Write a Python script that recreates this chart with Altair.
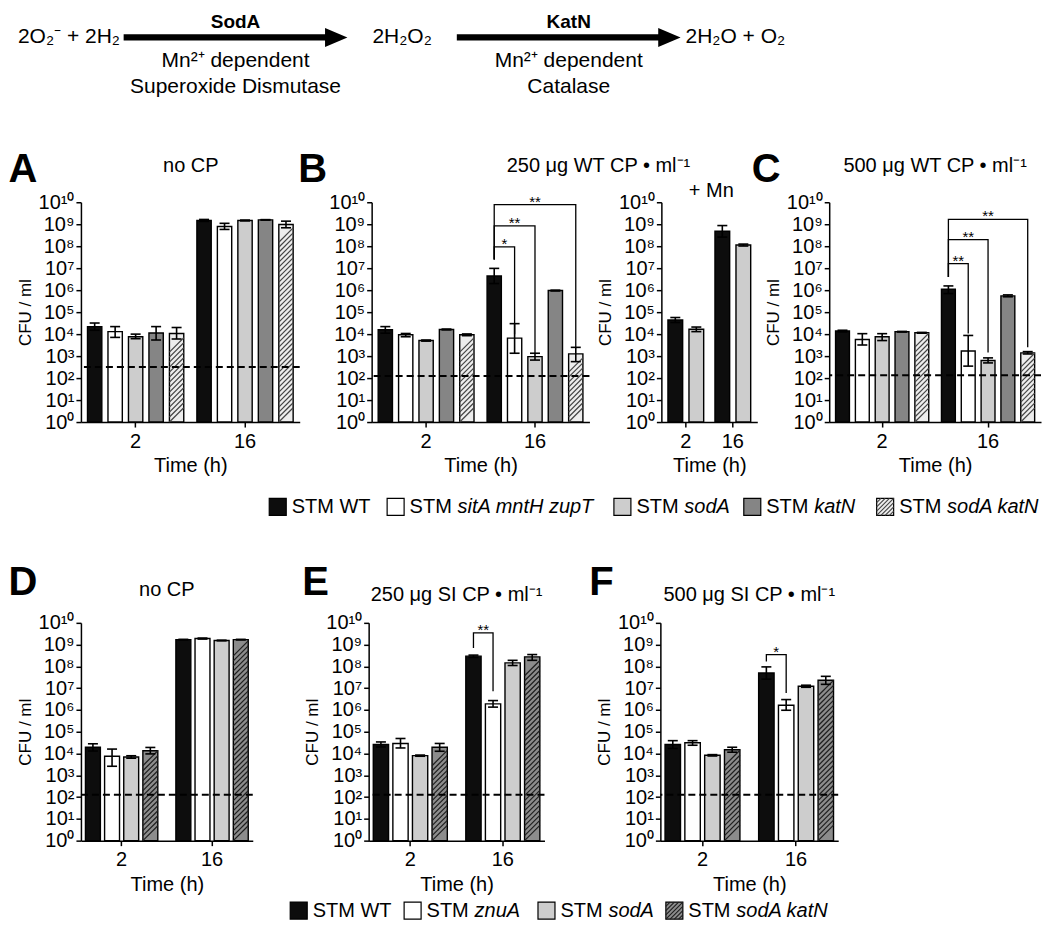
import altair as alt
import pandas as pd

FONT = "Liberation Sans"

# ---------------- data ----------------
SPECIES = ["2O₂⁻ + 2H₂", "2H₂O₂", "2H₂O + O₂"]
ENZYMES = ["SodA", "KatN"]
ENZ_LINE1 = ["Mn²⁺ dependent", "Mn²⁺ dependent"]
ENZ_LINE2 = ["Superoxide Dismutase", "Catalase"]

TIMES = ["2", "16"]
STRAINS_WT = ["STM WT", "STM sitA mntH zupT", "STM sodA", "STM katN", "STM sodA katN"]
STRAINS_MN = ["STM WT", "STM sodA"]
STRAINS_SI = ["STM WT", "STM znuA", "STM sodA", "STM sodA katN"]

TITLE_A = "no CP"
TITLE_B = "250 μg WT CP • ml⁻¹"
TITLE_MN = "+ Mn"
TITLE_C = "500 μg WT CP • ml⁻¹"
TITLE_D = "no CP"
TITLE_E = "250 μg SI CP • ml⁻¹"
TITLE_F = "500 μg SI CP • ml⁻¹"

# CFU/ml means and error-bar ends, [2 h values, 16 h values]
A_MEAN = [[2.2e4, 1.3e4, 7.6e3, 1.12e4, 1.07e4], [1.48e9, 7.9e8, 1.48e9, 1.58e9, 9.7e8]]
A_HI = [[3.2e4, 2.2e4, 1.0e4, 2.2e4, 2.0e4], [1.65e9, 1.1e9, 1.55e9, 1.62e9, 1.38e9]]
A_LO = [[1.5e4, 7.1e3, 6.2e3, 5.4e3, 6.0e3], [1.35e9, 5.8e8, 1.42e9, 1.54e9, 6.9e8]]

B_MEAN = [[1.58e4, 9.3e3, 5.1e3, 1.63e4, 9.3e3], [4.4e6, 6.6e3, 950, 9.6e5, 1.26e3]]
B_HI = [[2.2e4, 1.07e4, 5.4e3, 1.7e4, 1.02e4], [9.8e6, 3.0e4, 1.35e3, 1.0e6, 2.5e3]]
B_LO = [[1.1e4, 7.6e3, 4.8e3, 1.56e4, 8.5e3], [2.0e6, 1.35e3, 660, 9.2e5, 560]]

MN_MEAN = [[4.4e4, 1.66e4], [4.8e8, 1.13e8]]
MN_HI = [[5.7e4, 2.1e4], [8.7e8, 1.25e8]]
MN_LO = [[3.4e4, 1.3e4], [2.6e8, 1.02e8]]

C_MEAN = [[1.38e4, 5.7e3, 7.6e3, 1.29e4, 1.15e4], [1.1e6, 1.7e3, 630, 5.5e5, 1.41e3]]
C_HI = [[1.5e4, 1.05e4, 1.05e4, 1.33e4, 1.2e4], [1.56e6, 8.7e3, 830, 6.1e5, 1.6e3]]
C_LO = [[1.26e4, 3.2e3, 5.1e3, 1.25e4, 1.1e4], [7.0e5, 350, 490, 5.0e5, 1.25e3]]

D_MEAN = [[1.94e4, 7.5e3, 6.9e3, 1.35e4], [1.7e9, 1.9e9, 1.55e9, 1.7e9]]
D_HI = [[2.8e4, 1.6e4, 7.9e3, 1.9e4], [1.75e9, 2.0e9, 1.6e9, 1.75e9]]
D_LO = [[1.3e4, 2.6e3, 6.1e3, 9.6e3], [1.65e9, 1.8e9, 1.5e9, 1.65e9]]

E_MEAN = [[2.6e4, 2.9e4, 8.0e3, 1.94e4], [2.95e8, 1.9e6, 1.45e8, 2.75e8]]
E_HI = [[3.4e4, 4.9e4, 8.5e3, 2.9e4], [3.3e8, 2.7e6, 1.9e8, 3.5e8]]
E_LO = [[2.0e4, 1.8e4, 7.5e3, 1.27e4], [2.6e8, 1.35e6, 1.1e8, 1.9e8]]

F_MEAN = [[2.6e4, 3.1e4, 8.3e3, 1.5e4], [5.0e7, 1.65e6, 1.23e7, 2.3e7]]
F_HI = [[3.9e4, 3.9e4, 8.9e3, 1.94e4], [9.5e7, 3.0e6, 1.37e7, 3.5e7]]
F_LO = [[1.7e4, 2.4e4, 7.7e3, 1.15e4], [2.6e7, 9.7e5, 1.1e7, 1.5e7]]

# detection limits (dashed lines)
LOD_A, LOD_B, LOD_C, LOD_D, LOD_E, LOD_F = 320, 126, 135, 129, 129, 129

# significance brackets at 16 h (from STM WT to target)
BR_B = {"start": 2.5e7, "targets": ["STM sitA mntH zupT", "STM sodA", "STM sodA katN"],
        "tops": [9.3e7, 8.5e8, 7.8e9], "ends": [1.0e4, 1.35e3, 2.3e3], "labels": ["*", "**", "**"]}
BR_C = {"start": 4.0e6, "targets": ["STM sitA mntH zupT", "STM sodA", "STM sodA katN"],
        "tops": [1.6e7, 2.0e8, 1.66e9], "ends": [1.07e4, 1.45e3, 2.5e3], "labels": ["**", "**", "**"]}
BR_E = {"start": 7.0e8, "targets": ["STM znuA"], "tops": [3.5e9], "ends": [7.2e6], "labels": ["**"]}
BR_F = {"start": 1.7e8, "targets": ["STM znuA"], "tops": [3.5e8], "ends": [6.0e6], "labels": ["*"]}

# ---------------- styles ----------------
FILL_1 = {"STM WT": "#0d0d0d", "STM sitA mntH zupT": "#ffffff", "STM sodA": "#cdcdcd",
          "STM katN": "#858585", "STM sodA katN": "#ededed"}
FILL_2 = {"STM WT": "#0d0d0d", "STM znuA": "#ffffff", "STM sodA": "#cdcdcd",
          "STM sodA katN": "#8c8c8c"}
HATCH_1 = "#444444"
HATCH_2 = "#1e1e1e"
LABEL_EXPR = ("'10' + ['⁰','¹','²','³','⁴','⁵','⁶','⁷','⁸','⁹','¹⁰']"
              "[round(log(datum.value) / LN10)]")


def long_df(strains, mean, hi, lo):
    rows = []
    for ti, t in enumerate(TIMES):
        for si, s in enumerate(strains):
            rows.append({"time": t, "strain": s, "mean": mean[ti][si],
                         "hi": hi[ti][si], "lo": lo[ti][si]})
    return pd.DataFrame(rows)


def text_layer(txt, x, y, size, weight="normal", align="center"):
    return alt.Chart(pd.DataFrame({"t": [txt]})).mark_text(
        fontSize=size, fontWeight=weight, font=FONT, align=align, baseline="middle", color="black"
    ).encode(x=alt.value(x), y=alt.value(y), text="t:N")


def build_panel(strains, mean, hi, lo, fills, hatch_color, width, height, pin, pout, spad,
                ytitle, lod, br, letter, letter_xy, titles):
    df = long_df(strains, mean, hi, lo)
    n = len(strains)
    step = width / (2 - pin + 2 * pout)
    band = step * (1 - pin)
    sub = band / (n - spad)
    bw = sub * (1 - spad)
    ppd = height / 10.0

    yscale = alt.Scale(type="log", domain=[1, 1e10], nice=False)
    if ytitle:
        yaxis = alt.Axis(values=[10 ** i for i in range(11)], labelExpr=LABEL_EXPR, title=ytitle,
                         labelOverlap=False, labelFlush=False)
    else:
        yaxis = alt.Axis(values=[10 ** i for i in range(11)], labelExpr=LABEL_EXPR, title=None,
                         labelOverlap=False, labelFlush=False)

    def Y(f):
        return alt.Y(f"{f}:Q", scale=yscale, axis=yaxis)

    X = alt.X("time:N", sort=TIMES,
              scale=alt.Scale(domain=TIMES, paddingInner=pin, paddingOuter=pout),
              axis=alt.Axis(title="Time (h)", labelAngle=0))
    XO = alt.XOffset("strain:N", sort=strains,
                     scale=alt.Scale(domain=strains, paddingInner=spad, paddingOuter=0))

    layers = []
    layers.append(alt.Chart(df).mark_bar(stroke="black", strokeWidth=1.4).encode(
        x=X, xOffset=XO, y=Y("mean"), y2=alt.datum(1),
        fill=alt.Fill("strain:N", scale=alt.Scale(domain=strains, range=[fills[s] for s in strains]),
                      legend=None)))

    if "STM sodA katN" in strains:
        half = bw / 2.0
        spc = 5.0
        layers.append(
            alt.Chart(df).transform_filter(
                alt.FieldEqualPredicate(field="strain", equal="STM sodA katN")
            ).transform_calculate(k="sequence(0, 90)").transform_flatten(["k"]).transform_calculate(
                hy=f"pow(10, ({half} + datum.k * {spc}) / {ppd})"
            ).transform_filter(
                f"datum.hy * pow(10, {half} / {ppd}) <= datum.mean"
            ).mark_point(shape="M-1,1L1,-1", size=bw * bw, filled=False, color=hatch_color,
                         strokeWidth=1.2, opacity=1).encode(x=X, xOffset=XO, y=Y("hy"))
        )

    layers.append(alt.Chart(df).mark_rule(color="black", strokeWidth=1.6).encode(
        x=X, xOffset=XO, y=Y("lo"), y2=alt.Y2("hi:Q")))
    for f in ["hi", "lo"]:
        layers.append(alt.Chart(df).mark_point(
            shape="M-1,0L1,0", size=100, filled=False, color="black", strokeWidth=1.6, opacity=1
        ).encode(x=X, xOffset=XO, y=Y(f)))

    if lod:
        layers.append(alt.Chart(pd.DataFrame({"lod": [lod]})).mark_rule(
            color="black", strokeDash=[7, 4], strokeWidth=2).encode(y=Y("lod")))

    if br:
        rows, labs = [], []
        for i, (tgt, top, end, lab) in enumerate(zip(br["targets"], br["tops"], br["ends"], br["labels"])):
            rows += [{"bid": i, "o": 0, "time": TIMES[1], "strain": strains[0], "yv": br["start"]},
                     {"bid": i, "o": 1, "time": TIMES[1], "strain": strains[0], "yv": top},
                     {"bid": i, "o": 2, "time": TIMES[1], "strain": tgt, "yv": top},
                     {"bid": i, "o": 3, "time": TIMES[1], "strain": tgt, "yv": end}]
            j = strains.index(tgt)
            labs.append({"time": TIMES[1], "strain": strains[j // 2], "half": j % 2 == 1,
                         "yv": top, "lab": lab})
        layers.append(alt.Chart(pd.DataFrame(rows)).mark_line(color="black", strokeWidth=1.3).encode(
            x=X, xOffset=XO, y=Y("yv"), detail="bid:N", order="o:Q"))
        ldf = pd.DataFrame(labs)
        for flag, dx in [(True, sub / 2.0), (False, 0)]:
            sub_df = ldf[ldf["half"] == flag]
            if len(sub_df):
                layers.append(alt.Chart(sub_df).mark_text(
                    fontSize=15, font=FONT, baseline="alphabetic", dy=2, dx=dx, color="black"
                ).encode(x=X, xOffset=XO, y=Y("yv"), text="lab:N"))

    if letter:
        layers.append(text_layer(letter, letter_xy[0], letter_xy[1], 40, "bold"))
    for t, tx, ty in titles:
        layers.append(text_layer(t, tx, ty, 20))
    return alt.layer(*layers).properties(width=width, height=height)


def hatch_square_path():
    segs = []
    for c in [-1.5, -1.0, -0.5, 0.0, 0.5, 1.0, 1.5]:
        if c < 0:
            segs.append(f"M-1,{c + 1}L{c + 1},-1")
        else:
            segs.append(f"M{c - 1},1L1,{c - 1}")
    return "".join(segs)


def build_legend(strains, fills, hatch_color, centers, y, width, height):
    layers = []
    sq = 17
    for s, cx in zip(strains, centers):
        prefix, gene = s.split(" ", 1)
        d = pd.DataFrame({"prefix": [prefix], "gene": [gene], "full": [s]})
        layers.append(alt.Chart(d).mark_square(
            size=sq * sq, filled=True, fill=fills[s], stroke="black", strokeWidth=1.2, opacity=1
        ).encode(x=alt.value(cx), y=alt.value(y)))
        if s == "STM sodA katN":
            layers.append(alt.Chart(d).mark_point(
                shape=hatch_square_path(), size=sq * sq, filled=False, color=hatch_color,
                strokeWidth=1.1, opacity=1).encode(x=alt.value(cx), y=alt.value(y)))
        tx = cx + 14
        if gene == "WT":
            layers.append(alt.Chart(d).mark_text(
                fontSize=20, font=FONT, align="left", baseline="middle", color="black"
            ).encode(x=alt.value(tx), y=alt.value(y), text="full:N"))
        else:
            layers.append(alt.Chart(d).mark_text(
                fontSize=20, font=FONT, align="left", baseline="middle", color="black"
            ).encode(x=alt.value(tx), y=alt.value(y), text="prefix:N"))
            layers.append(alt.Chart(d).mark_text(
                fontSize=20, font=FONT, align="left", baseline="middle", fontStyle="italic", color="black"
            ).encode(x=alt.value(tx + 48), y=alt.value(y), text="gene:N"))
    return alt.layer(*layers).properties(width=width, height=height)


# ---------------- reaction scheme (drawn above panel A) ----------------
SCHEME_ORDER = [SPECIES[0], ENZYMES[0], SPECIES[1], ENZYMES[1], SPECIES[2]]
SX = alt.X("item:N", sort=SCHEME_ORDER,
           scale=alt.Scale(type="point", domain=SCHEME_ORDER, range=[-12, 655], padding=0), axis=None)
sp_df = pd.DataFrame({"item": SPECIES})
en_df = pd.DataFrame({"item": ENZYMES, "l1": ENZ_LINE1, "l2": ENZ_LINE2})
ARROW = "M-1,-0.028L0.8,-0.028L0.8,-0.085L1,0L0.8,0.085L0.8,0.028L-1,0.028Z"
scheme = alt.layer(
    alt.Chart(sp_df).mark_text(fontSize=21, font=FONT, color="black").encode(
        x=SX, y=alt.value(-165), text="item:N"),
    alt.Chart(en_df).mark_point(shape=ARROW, size=224 * 224, filled=True, color="black",
                                opacity=1, strokeWidth=0).encode(x=SX, y=alt.value(-165)),
    alt.Chart(en_df).mark_text(fontSize=19, font=FONT, fontWeight="bold", color="black").encode(
        x=SX, y=alt.value(-180), text="item:N"),
    alt.Chart(en_df).mark_text(fontSize=21, font=FONT, color="black").encode(
        x=SX, y=alt.value(-141), text="l1:N"),
    alt.Chart(en_df).mark_text(fontSize=21, font=FONT, color="black").encode(
        x=SX, y=alt.value(-115), text="l2:N"),
)

# ---------------- panels ----------------
H1, H2 = 220, 218
pA_data = build_panel(STRAINS_WT, A_MEAN, A_HI, A_LO, FILL_1, HATCH_1, 219, H1, 0.12, 0.06, 0.3,
                      "CFU / ml", LOD_A, None, "A", (-58, -32), [(TITLE_A, 110, -36)])
pA = alt.layer(pA_data, scheme).resolve_scale(x="independent")
pB = build_panel(STRAINS_WT, B_MEAN, B_HI, B_LO, FILL_1, HATCH_1, 218, H1, 0.12, 0.06, 0.3,
                 None, LOD_B, BR_B, "B", (-59, -32), [(TITLE_B, 227, -36)])
pMn = build_panel(STRAINS_MN, MN_MEAN, MN_HI, MN_LO, FILL_1, HATCH_1, 96, H1, 0.24, 0.14, 0.3,
                  "CFU / ml", None, None, "", (0, 0), [(TITLE_MN, 50, -11)])
pC = build_panel(STRAINS_WT, C_MEAN, C_HI, C_LO, FILL_1, HATCH_1, 212, H1, 0.12, 0.06, 0.3,
                 "CFU / ml", LOD_C, BR_C, "C", (-63, -32), [(TITLE_C, 106, -36)])

pD = build_panel(STRAINS_SI, D_MEAN, D_HI, D_LO, FILL_2, HATCH_2, 172, H2, 0.2, 0.05, 0.22,
                 "CFU / ml", LOD_D, None, "D", (-58, -40), [(TITLE_D, 86, -33)])
pE = build_panel(STRAINS_SI, E_MEAN, E_HI, E_LO, FILL_2, HATCH_2, 176, H2, 0.2, 0.05, 0.22,
                 "CFU / ml", LOD_E, BR_E, "E", (-53, -40), [(TITLE_E, 88, -28)])
pF = build_panel(STRAINS_SI, F_MEAN, F_HI, F_LO, FILL_2, HATCH_2, 178, H2, 0.2, 0.05, 0.22,
                 "CFU / ml", LOD_F, BR_F, "F", (-59, -40), [(TITLE_F, 89, -28)])

RES = dict(fill="independent", xOffset="independent")
row1 = alt.hconcat(pA, pB, pMn, pC, spacing=72, bounds="flush").resolve_scale(**RES)
row2 = alt.hconcat(pD, pE, pF, spacing=116, bounds="flush").resolve_scale(**RES)

leg1 = build_legend(STRAINS_WT, FILL_1, HATCH_1, [197, 315, 542, 672, 805], 31, 940, 87)
leg2 = build_legend(STRAINS_SI, FILL_2, HATCH_2, [218, 332, 466, 594], 16, 940, 22)

chart = alt.vconcat(row1, leg1, row2, leg2, spacing=0).resolve_scale(**RES).properties(
    padding={"top": 5, "left": 0, "right": 0, "bottom": 0}
).configure(font=FONT).configure_view(stroke=None).configure_axis(
    domainColor="black", domainWidth=1.5, tickColor="black", tickWidth=1.5, tickSize=5,
    labelColor="black", titleColor="black", labelFont=FONT, titleFont=FONT,
    labelFontSize=20, titleFontSize=20, titleFontWeight="normal", grid=False
).configure_axisY(titleFontSize=17, titlePadding=4, labelPadding=2).configure_axisX(
    labelPadding=4, titlePadding=5
)

chart.save("out.html", embed_options={"renderer": "svg", "actions": False})
